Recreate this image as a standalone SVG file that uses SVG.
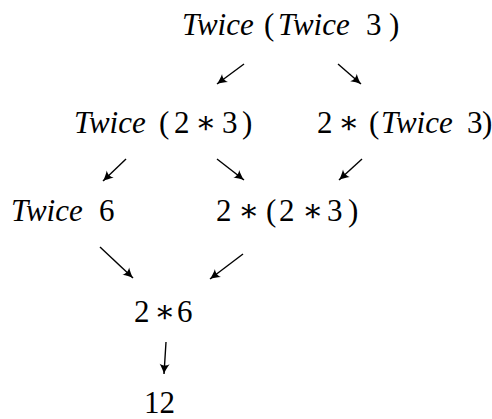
<svg xmlns="http://www.w3.org/2000/svg" width="492" height="419" viewBox="0 0 492 419">
<style>
.t{font-family:"Liberation Serif","DejaVu Serif",serif;font-size:31px;fill:#000}
.i{font-style:italic}
</style>
<defs>
<marker id="ah" markerUnits="userSpaceOnUse" viewBox="-11 -6 12 12" markerWidth="12" markerHeight="12" refX="0" refY="0" orient="auto">
<path d="M0,0 C-3,-1 -7,-3 -10,-5 C-8,-2 -8,2 -10,5 C-7,3 -3,1 0,0 Z" fill="#000"/>
</marker>
</defs>
<rect width="492" height="419" fill="#fff"/>
<g id="n1"><text class="t" y="35"><tspan class="i" x="182">Twice</tspan><tspan x="264">(</tspan><tspan class="i" x="278">Twice</tspan><tspan x="366">3</tspan><tspan x="389">)</tspan></text></g>
<g id="n2"><text class="t" y="133"><tspan class="i" x="74">Twice</tspan><tspan x="159">(</tspan><tspan x="174">2</tspan><tspan x="195">∗</tspan><tspan x="222">3</tspan><tspan x="242">)</tspan></text></g>
<g id="n3"><text class="t" y="133"><tspan x="317">2</tspan><tspan x="338">∗</tspan><tspan x="369">(</tspan><tspan class="i" x="381">Twice</tspan><tspan x="467">3</tspan><tspan x="482">)</tspan></text></g>
<g id="n4"><text class="t" y="221"><tspan class="i" x="11">Twice</tspan><tspan x="99">6</tspan></text></g>
<g id="n5"><text class="t" y="221"><tspan x="216">2</tspan><tspan x="238">∗</tspan><tspan x="266">(</tspan><tspan x="279">2</tspan><tspan x="302">∗</tspan><tspan x="327">3</tspan><tspan x="348">)</tspan></text></g>
<g id="n6"><text class="t" y="322"><tspan x="134">2</tspan><tspan x="154">∗</tspan><tspan x="177">6</tspan></text></g>
<g id="n7"><text class="t" y="413"><tspan x="144">12</tspan></text></g>
<g id="connectors" stroke="#000" stroke-width="1.4" fill="none">
<line x1="244" y1="64" x2="217" y2="84" marker-end="url(#ah)"/>
<line x1="338" y1="64" x2="361" y2="84" marker-end="url(#ah)"/>
<line x1="126" y1="159" x2="103" y2="181" marker-end="url(#ah)"/>
<line x1="217" y1="159" x2="244" y2="180" marker-end="url(#ah)"/>
<line x1="362" y1="159" x2="339" y2="180" marker-end="url(#ah)"/>
<line x1="100" y1="247" x2="133" y2="278" marker-end="url(#ah)"/>
<line x1="243" y1="254" x2="210" y2="279" marker-end="url(#ah)"/>
<line x1="166" y1="342" x2="164" y2="374" marker-end="url(#ah)"/>
</g>
</svg>
